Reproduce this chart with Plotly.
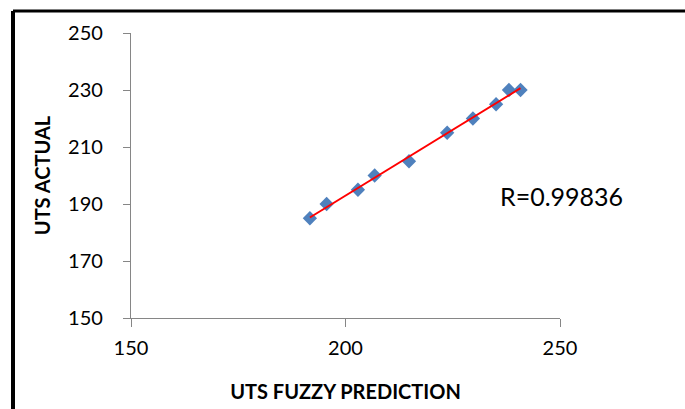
import numpy as np
import plotly.graph_objects as go

# UTS: fuzzy-model prediction vs. measured value
uts_fuzzy_prediction = [191.7, 195.6, 202.9, 206.8, 214.8, 223.7, 229.7, 235.1, 238.1, 240.8]
uts_actual = [185, 190, 195, 200, 205, 215, 220, 225, 230, 230]
x_ticks = [150, 200, 250]
y_ticks = [150, 170, 190, 210, 230, 250]
r_label = "R=0.99836"

# least-squares trendline across the data range
slope, intercept = np.polyfit(uts_fuzzy_prediction, uts_actual, 1)
trend_x = [min(uts_fuzzy_prediction), max(uts_fuzzy_prediction)]
trend_y = [slope * v + intercept for v in trend_x]

FONT = "Lato, 'Open Sans', sans-serif"
AXIS_GREY = "#868686"

# plot-area geometry in page pixels
L, R, T, B = 131, 560, 33, 318
W_PX, H_PX = R - L, B - T

fig = go.Figure()
fig.add_trace(go.Scatter(
    x=uts_fuzzy_prediction, y=uts_actual, mode="markers",
    marker=dict(symbol="diamond", size=11, color="#4F81BD"),
    showlegend=False,
))
fig.add_trace(go.Scatter(
    x=trend_x, y=trend_y, mode="lines",
    line=dict(color="#FF0000", width=2),
    showlegend=False,
))

fig.add_annotation(
    x=(498 - L) / W_PX, y=(B - 196) / H_PX, xref="paper", yref="paper",
    text=r_label, showarrow=False, xanchor="left", yanchor="middle",
    font=dict(family=FONT, size=25, color="#000000"),
)

fig.update_layout(
    width=685, height=409,
    margin=dict(l=L, r=685 - R, t=T, b=409 - B, autoexpand=False),
    paper_bgcolor="white", plot_bgcolor="white",
    font=dict(family=FONT, size=20, color="#000000"),
    xaxis=dict(
        range=[150, 250], tickvals=x_ticks, showgrid=False, zeroline=False,
        showline=True, linecolor=AXIS_GREY, linewidth=1.3,
        ticks="outside", ticklen=8, tickcolor=AXIS_GREY, tickwidth=1.3,
        ticklabelstandoff=4, automargin=False,
        title=dict(text="<b>UTS FUZZY PREDICTION</b>",
                   font=dict(family=FONT, size=20), standoff=26),
    ),
    yaxis=dict(
        range=[150, 250], tickvals=y_ticks, showgrid=False, zeroline=False,
        showline=True, linecolor=AXIS_GREY, linewidth=1.3,
        ticks="outside", ticklen=7, tickcolor=AXIS_GREY, tickwidth=1.3,
        ticklabelstandoff=16, automargin=False,
        title=dict(text="<b>UTS ACTUAL</b>",
                   font=dict(family=FONT, size=20), standoff=12),
    ),
)

# left and top edges of the outer frame
fig.add_shape(type="line", xref="paper", yref="paper",
              x0=(13 - L) / W_PX, x1=(700 - L) / W_PX,
              y0=(B - 11) / H_PX, y1=(B - 11) / H_PX,
              line=dict(color="#000000", width=3))
fig.add_shape(type="line", xref="paper", yref="paper",
              x0=(13 - L) / W_PX, x1=(13 - L) / W_PX,
              y0=(B - 11) / H_PX, y1=(B - 430) / H_PX,
              line=dict(color="#000000", width=4))

fig.write_html("out.html")
